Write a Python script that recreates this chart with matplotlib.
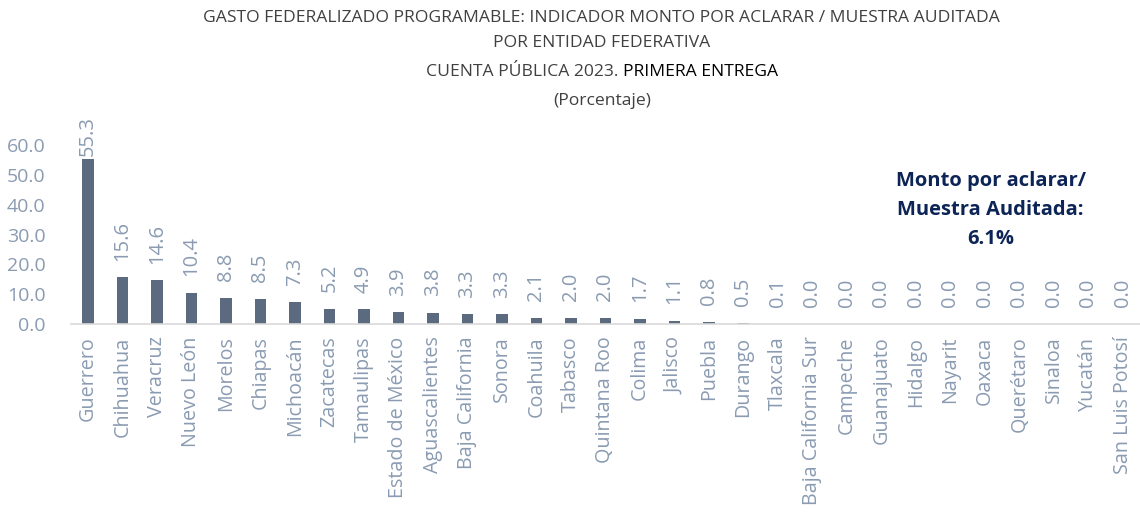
import matplotlib
matplotlib.use("Agg")
import matplotlib.pyplot as plt

plt.rcParams['font.family'] = ['Open Sans', 'DejaVu Sans']

estados = ['Guerrero', 'Chihuahua', 'Veracruz', 'Nuevo León', 'Morelos', 'Chiapas',
           'Michoacán', 'Zacatecas', 'Tamaulipas', 'Estado de México', 'Aguascalientes',
           'Baja California', 'Sonora', 'Coahuila', 'Tabasco', 'Quintana Roo', 'Colima',
           'Jalisco', 'Puebla', 'Durango', 'Tlaxcala', 'Baja California Sur', 'Campeche',
           'Guanajuato', 'Hidalgo', 'Nayarit', 'Oaxaca', 'Querétaro', 'Sinaloa', 'Yucatán',
           'San Luis Potosí']
valores = [55.3, 15.6, 14.6, 10.4, 8.8, 8.5, 7.3, 5.2, 4.9, 3.9, 3.8, 3.3, 3.3, 2.1,
           2.0, 2.0, 1.7, 1.1, 0.8, 0.5, 0.1, 0.0, 0.0, 0.0, 0.0, 0.0, 0.0, 0.0, 0.0,
           0.0, 0.0]
yticks = [0, 10, 20, 30, 40, 50, 60]

bar_color = '#5B6A7E'
tick_color = '#8A9BB2'

fig = plt.figure(figsize=(11.4, 5.14), dpi=100)
ax = fig.add_axes([0.062, 0.3696, 0.938, 0.3483])

x = list(range(len(estados)))
ax.bar(x, valores, width=0.33, color=bar_color, zorder=2)
# etiquetas: el valor más alto se queda dentro del área del gráfico
for xi, v in zip(x, valores):
    ax.annotate(f'{v:.1f}', (xi, min(v, 50.8)), xytext=(0, 12), textcoords='offset points',
                rotation=90, ha='center', va='bottom', fontsize=14.5, color=tick_color,
                annotation_clip=False)

ax.set_xlim(-0.5, len(estados) - 0.5)
ax.set_ylim(0, 60)
ax.set_yticks(yticks)
ax.set_yticklabels([f'{t:.1f}' for t in yticks])
ax.set_xticks(x)
ax.set_xticklabels(estados, rotation=90)
ax.tick_params(axis='x', length=0, pad=9, labelsize=14.2, colors=tick_color)
ax.tick_params(axis='y', length=0, pad=18, labelsize=14, colors=tick_color)
for s in ['top', 'right', 'left']:
    ax.spines[s].set_visible(False)
ax.spines['bottom'].set_color('#D9D9D9')
ax.spines['bottom'].set_linewidth(1.2)

title_color = '#404040'
fs_t = 12.6
cx = 0.528
fig.text(cx, 0.965, 'GASTO FEDERALIZADO PROGRAMABLE: INDICADOR MONTO POR ACLARAR / MUESTRA AUDITADA',
         ha='center', va='center', fontsize=fs_t, color=title_color)
fig.text(cx, 0.916, 'POR ENTIDAD FEDERATIVA', ha='center', va='center', fontsize=fs_t,
         color=title_color)
t1 = fig.text(cx, 0.86, 'CUENTA PÚBLICA 2023. ', ha='left', va='center', fontsize=fs_t,
              color=title_color)
t2 = fig.text(cx, 0.86, 'PRIMERA ENTREGA', ha='left', va='center', fontsize=fs_t, color='black')
fig.canvas.draw()
w1 = t1.get_window_extent().width / fig.bbox.width
w2 = t2.get_window_extent().width / fig.bbox.width
t1.set_x(cx - (w1 + w2) / 2)
t2.set_x(cx - (w1 + w2) / 2 + w1)
fig.text(cx, 0.804, '(Porcentaje)', ha='center', va='center', fontsize=fs_t, color=title_color)

fig.text(0.869, 0.591, 'Monto por aclarar/\nMuestra Auditada:\n6.1%', ha='center', va='center',
         fontsize=14.5, fontweight='bold', color='#0D2456', linespacing=1.6)

fig.savefig('out.png', dpi=100)
